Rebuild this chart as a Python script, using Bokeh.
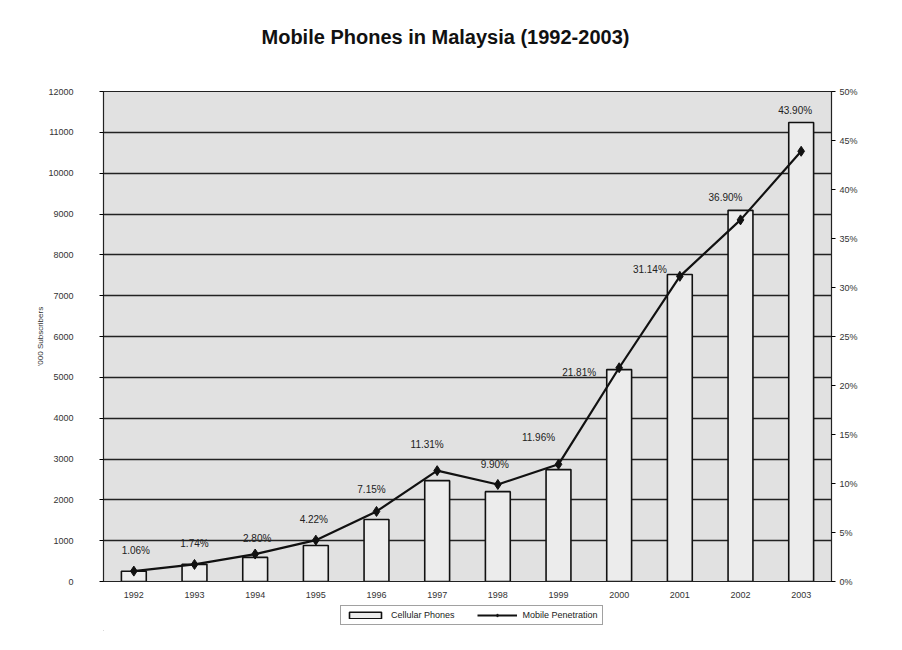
from bokeh.plotting import figure
from bokeh.models import (ColumnDataSource, Range1d, LinearAxis, FixedTicker, Title,
                          PrintfTickFormatter, LabelSet, Legend, LegendItem, FactorRange)
from bokeh.layouts import column
from bokeh.core.properties import value
from bokeh.embed import file_html
from bokeh.resources import INLINE

years = ["1992", "1993", "1994", "1995", "1996", "1997", "1998", "1999",
         "2000", "2001", "2002", "2003"]
subscribers = [250, 420, 590, 880, 1520, 2470, 2200, 2740, 5190, 7520, 9090, 11240]
penetration = [1.06, 1.74, 2.80, 4.22, 7.15, 11.31, 9.90, 11.96, 21.81, 31.14, 36.90, 43.90]
pct_labels = ["%.2f%%" % v for v in penetration]
left_ticks = [0, 1000, 2000, 3000, 4000, 5000, 6000, 7000, 8000, 9000, 10000, 11000, 12000]
right_ticks = [0, 5, 10, 15, 20, 25, 30, 35, 40, 45, 50]
# label offsets (screen px) as in the original
label_dx = [2, 0, 2, -2, -5, -10, -3, -20, -40, -30, -15, -6]
label_dy = [21, 21, 16, 21, 22, 26, 20, 27, -5, 7, 22, 41]

src = ColumnDataSource(dict(year=years, subs=subscribers, pen=penetration,
                            lab=pct_labels, dx=label_dx, dy=label_dy))

FONT = "Liberation Sans"

p = figure(frame_width=728, frame_height=490, x_range=FactorRange(*years),
           y_range=Range1d(0, 12000), output_backend="svg", toolbar_location=None,
           min_border_left=103, min_border_right=48, min_border_top=91, min_border_bottom=20)
p.extra_y_ranges = {"pct": Range1d(0, 50)}

p.title.text = "Mobile Phones in Malaysia (1992-2003)"
p.title.align = "left"
p.title.offset = 158
p.title.text_font = FONT
p.title.text_font_size = "20px"
p.title.text_font_style = "bold"
p.title.text_color = "#111"
p.title.standoff = 0
# spacer between title and plot area
p.add_layout(Title(text=" ", text_font_size="38px", standoff=0), "above")

p.background_fill_color = "#e1e1e1"
p.border_fill_color = "white"
p.outline_line_color = "#222"
p.outline_line_width = 1.2
p.xgrid.grid_line_color = None
p.ygrid.grid_line_color = "#222"
p.ygrid.grid_line_width = 1.4

bars = p.vbar(x="year", top="subs", width=0.41, source=src,
              fill_color="#ececec", line_color="#111", line_width=1.6)
line = p.line(x="year", y="pen", source=src, y_range_name="pct",
              line_color="#111", line_width=2.2)
pts = p.scatter(x="year", y="pen", source=src, y_range_name="pct",
                marker="diamond", size=10, fill_color="#111", line_color="#111")

labels = LabelSet(x="year", y="pen", text="lab", source=src, y_range_name="pct",
                  x_offset="dx", y_offset="dy", text_align="center",
                  text_baseline="middle", text_font=value(FONT), text_font_size=value("10px"),
                  text_color=value("#222"))
p.add_layout(labels)

# left axis
ya = p.yaxis[0]
ya.ticker = FixedTicker(ticks=left_ticks)
ya.axis_label = "'000 Subscribers"
ya.axis_label_text_font = FONT
ya.axis_label_text_font_size = "8px"
ya.axis_label_text_font_style = "normal"
ya.axis_label_text_color = "#333"
ya.axis_label_standoff = 0
ya.major_label_text_font = FONT
ya.major_label_text_font_size = "9px"
ya.major_label_text_color = "#333"
ya.major_label_standoff = 26
ya.major_tick_out = 4
ya.major_tick_in = 0
ya.minor_tick_line_color = None
ya.axis_line_color = "#222"

# right axis
ra = LinearAxis(y_range_name="pct", ticker=FixedTicker(ticks=right_ticks),
                formatter=PrintfTickFormatter(format="%d%%"))
ra.major_label_text_font = FONT
ra.major_label_text_font_size = "9px"
ra.major_label_text_color = "#333"
ra.major_label_standoff = 4
ra.major_tick_out = 4
ra.major_tick_in = 0
ra.minor_tick_line_color = None
ra.axis_line_color = "#222"
p.add_layout(ra, "right")

xa = p.xaxis[0]
xa.major_label_text_font = FONT
xa.major_label_text_font_size = "9px"
xa.major_label_text_color = "#333"
xa.major_label_standoff = 10
xa.major_tick_out = 0
xa.major_tick_line_color = None
xa.axis_line_color = "#222"

# legend strip below the chart; its sample glyphs sit outside the strip's visible range
lf = figure(width=879, height=30, output_backend="svg", toolbar_location=None,
            x_range=Range1d(0, 1), y_range=Range1d(0, 1),
            min_border=0)
lf.axis.visible = False
lf.grid.visible = False
lf.outline_line_color = None
lf.background_fill_color = "white"
lf.border_fill_color = "white"
hidden = ColumnDataSource(dict(x=[-50, -60], y=[-50, -60], top=[-50, -60]))
lb = lf.vbar(x="x", top="top", bottom=-40, width=0.1, source=hidden,
             fill_color="#ececec", line_color="#111", line_width=1.6)
ll = lf.line(x="x", y="y", source=hidden, line_color="#111", line_width=2.2)
lp = lf.scatter(x="x", y="y", source=hidden, marker="diamond", size=10,
                fill_color="#111", line_color="#111")
legend = Legend(items=[LegendItem(label="Cellular Phones", renderers=[lb]),
                       LegendItem(label="Mobile Penetration", renderers=[ll, lp])],
                orientation="horizontal", location=(237, 6))
legend.label_text_font = FONT
legend.label_text_font_size = "9px"
legend.label_text_color = "#222"
legend.glyph_height = 8
legend.glyph_width = 40
legend.label_height = 8
legend.label_standoff = 6
legend.padding = 4
legend.margin = 0
legend.spacing = 22
legend.border_line_color = "#444"
legend.background_fill_color = "white"
lf.add_layout(legend, "center")

layout = column(p, lf, spacing=0)
open("out.html", "w").write(file_html(layout, INLINE))
